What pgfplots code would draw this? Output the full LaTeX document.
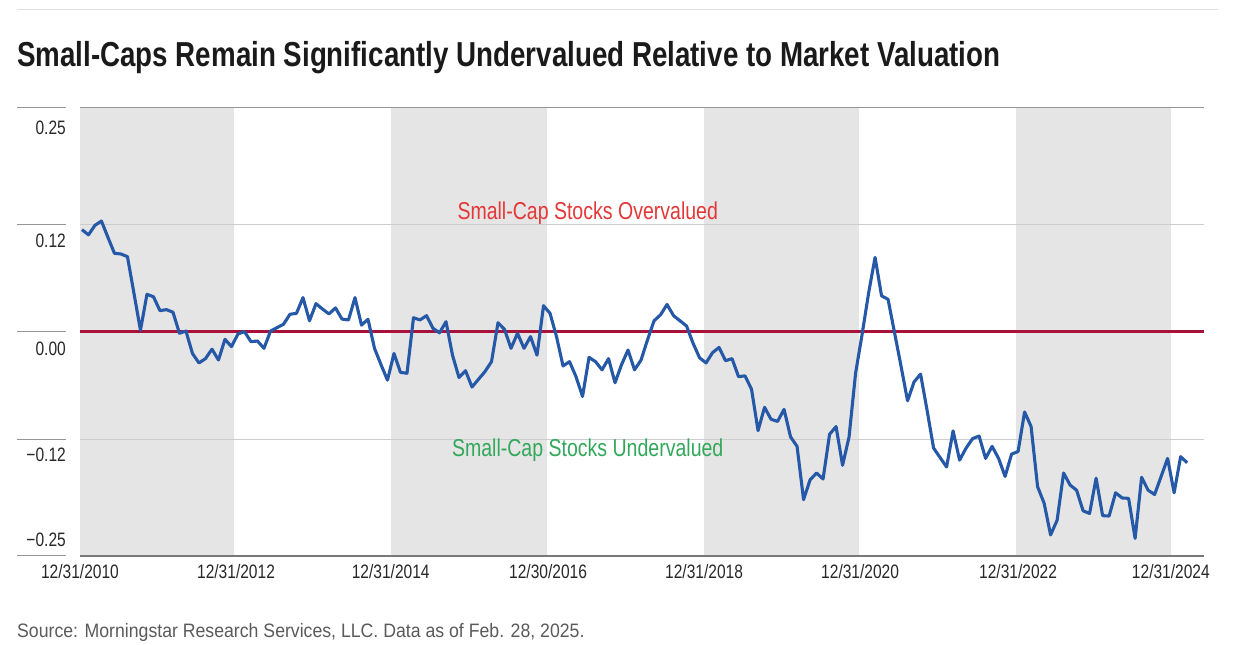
\documentclass[border=0pt]{standalone}
\usepackage{fontspec}
\setmainfont{Liberation Sans}[FakeStretch=0.8]
\newfontfamily\srcfont{Liberation Sans}[FakeStretch=0.91]
\usepackage{pgfplots}
\usepackage{pgfplotstable}
\pgfplotsset{compat=1.18}
\definecolor{lineblue}{RGB}{38,88,168}
\definecolor{zerored}{RGB}{168,18,58}
\definecolor{bandc}{RGB}{229,229,229}
\definecolor{gridc}{RGB}{205,205,205}
\definecolor{framec}{RGB}{150,150,150}
\definecolor{overred}{RGB}{228,55,55}
\definecolor{undergreen}{RGB}{50,168,90}
\definecolor{ticktext}{RGB}{40,40,40}
\definecolor{srcgray}{RGB}{90,90,90}
\definecolor{titlec}{RGB}{26,26,26}

\pgfplotstableread{
m v
0 0.119
1 0.113
2 0.124
3 0.129
4 0.110
5 0.0915
6 0.0907
7 0.0876
8 0.045
9 0.002
10 0.0438
11 0.041
12 0.0248
13 0.026
14 0.023
15 -0.0015
16 0.001
17 -0.025
18 -0.036
19 -0.031
20 -0.020
21 -0.0326
22 -0.0085
23 -0.017
24 -0.0023
25 0.0004
26 -0.0113
27 -0.0105
28 -0.019
29 0.001
30 0.005
31 0.009
32 0.0206
33 0.0217
34 0.040
35 0.013
36 0.033
37 0.0267
38 0.021
39 0.028
40 0.015
41 0.014
42 0.040
43 0.008
44 0.0148
45 -0.019
46 -0.038
47 -0.056
48 -0.025
49 -0.047
50 -0.048
51 0.0166
52 0.014
53 0.019
54 0.0043
55 -0.001
56 0.012
57 -0.027
58 -0.053
59 -0.045
60 -0.064
61 -0.055
62 -0.046
63 -0.0345
64 0.0108
65 0.003
66 -0.019
67 -0.0015
68 -0.019
69 -0.0054
70 -0.027
71 0.0306
72 0.0217
73 -0.0054
74 -0.0395
75 -0.0345
76 -0.052
77 -0.075
78 -0.0295
79 -0.0345
80 -0.044
81 -0.031
82 -0.059
83 -0.038
84 -0.021
85 -0.044
86 -0.0326
87 -0.009
88 0.013
89 0.020
90 0.032
91 0.019
92 0.013
93 0.007
94 -0.013
95 -0.030
96 -0.036
97 -0.024
98 -0.018
99 -0.0334
100 -0.031
101 -0.052
102 -0.051
103 -0.0667
104 -0.1147
105 -0.0876
106 -0.1015
107 -0.104
108 -0.090
109 -0.122
110 -0.133
111 -0.195
112 -0.172
113 -0.164
114 -0.171
115 -0.119
116 -0.110
117 -0.155
118 -0.122
119 -0.048
120 -0.003
121 0.045
122 0.0868
123 0.042
124 0.038
125 -0.001
126 -0.040
127 -0.080
128 -0.058
129 -0.049
130 -0.091
131 -0.135
132 -0.146
133 -0.157
134 -0.115
135 -0.149
136 -0.135
137 -0.124
138 -0.121
139 -0.147
140 -0.133
141 -0.147
142 -0.168
143 -0.142
144 -0.139
145 -0.093
146 -0.110
147 -0.180
148 -0.199
149 -0.236
150 -0.219
151 -0.164
152 -0.178
153 -0.184
154 -0.208
155 -0.211
156 -0.170
157 -0.2136
158 -0.214
159 -0.187
160 -0.193
161 -0.1935
162 -0.240
163 -0.169
164 -0.184
165 -0.189
166 -0.168
167 -0.147
168 -0.187
169 -0.145
170 -0.152
}\datatable

\begin{document}
\begin{tikzpicture}[x=1bp,y=1bp]
\useasboundingbox (0,0) rectangle (1248,645);
\draw[color=black!12, line width=1bp] (17,635) -- (1218,635);
\node[anchor=base west, inner sep=0pt, text=titlec, font=\fontsize{34.8}{40}\selectfont\bfseries] at (17,578) {Small-Caps Remain Significantly Undervalued Relative to Market Valuation};
\node[anchor=base west, inner sep=0pt, text=srcgray, font=\srcfont\fontsize{19.5}{22}\selectfont] at (17,7) {Source: Morningstar Research Services, LLC. Data as of Feb. 28, 2025.};
\begin{axis}[
  at={(80bp,89bp)}, anchor=south west,
  scale only axis, width=1124bp, height=448bp,
  xmin=-0.3, xmax=172.6, ymin=-0.2605, ymax=0.2605,
  axis line style={draw=none},
  major tick length=0pt,
  clip=false,
  xtick={-0.3,23.7,47.5,71.7,95.7,119.7,144,167.5},
  xticklabels={12/31/2010,12/31/2012,12/31/2014,12/30/2016,12/31/2018,12/31/2020,12/31/2022,12/31/2024},
  xticklabel style={anchor=north, inner sep=0pt, yshift=-8bp, text=ticktext, font=\fontsize{19.5}{22}\selectfont},
  ytick={0.237,0.106,-0.020,-0.143,-0.242},
  yticklabels={0.25,0.12,0.00,−0.12,−0.25},
  yticklabel style={anchor=east, inner sep=0pt, xshift=-14bp, text=ticktext, font=\fontsize{19.5}{22}\selectfont},
]
% shaded periods
\addplot[fill=bandc, draw=none] coordinates {(-0.3,-0.2605) (-0.3,0.2605) (23.4,0.2605) (23.4,-0.2605)} -- cycle;
\addplot[fill=bandc, draw=none] coordinates {(47.5,-0.2605) (47.5,0.2605) (71.5,0.2605) (71.5,-0.2605)} -- cycle;
\addplot[fill=bandc, draw=none] coordinates {(95.7,-0.2605) (95.7,0.2605) (119.5,0.2605) (119.5,-0.2605)} -- cycle;
\addplot[fill=bandc, draw=none] coordinates {(143.7,-0.2605) (143.7,0.2605) (167.5,0.2605) (167.5,-0.2605)} -- cycle;
% gridlines
\draw[gridc, line width=0.9bp] (rel axis cs:0,0.7399) -- (rel axis cs:1,0.7399);
\draw[gridc, line width=0.9bp] (rel axis cs:0,0.2601) -- (rel axis cs:1,0.2601);
\draw[framec, line width=1bp] (rel axis cs:0,1) -- (rel axis cs:1,1);
\draw[framec!80!black, line width=1.3bp] (rel axis cs:0,0) -- (rel axis cs:1,0);
% stubs at left
\draw[framec, line width=1bp] (rel axis cs:-0.0561,0) -- (rel axis cs:-0.0125,0);
\draw[framec, line width=1bp] (rel axis cs:-0.0561,0.2601) -- (rel axis cs:-0.0125,0.2601);
\draw[framec, line width=1bp] (rel axis cs:-0.0561,0.5) -- (rel axis cs:-0.0125,0.5);
\draw[framec, line width=1bp] (rel axis cs:-0.0561,0.7399) -- (rel axis cs:-0.0125,0.7399);
\draw[framec, line width=1bp] (rel axis cs:-0.0561,1) -- (rel axis cs:-0.0125,1);
% labels
\node[text=overred, font=\fontsize{24.5}{28}\selectfont] at (axis cs:77.8,0.138) {Small-Cap Stocks Overvalued};
\node[text=undergreen, font=\fontsize{24.5}{28}\selectfont] at (axis cs:77.8,-0.138) {Small-Cap Stocks Undervalued};
% zero line
\addplot[zerored, line width=3bp] coordinates {(-0.3,0) (172.6,0)};
% series
\addplot[lineblue, line width=3.1bp, line join=round] table[x=m, y=v] {\datatable};
\end{axis}
\end{tikzpicture}
\end{document}
